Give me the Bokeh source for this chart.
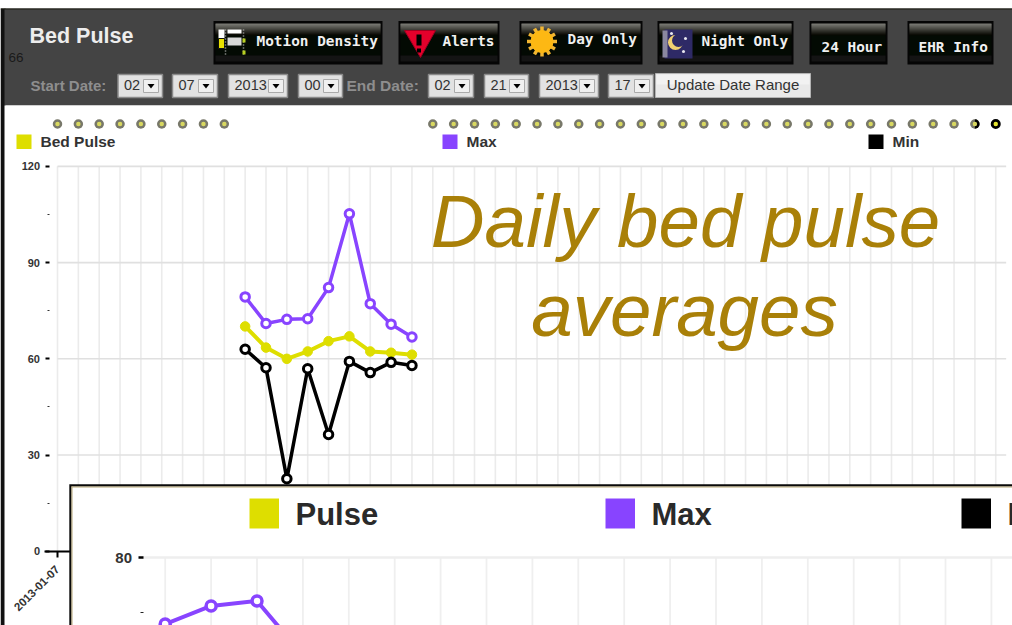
import math
from bokeh.embed import file_html
from bokeh.resources import INLINE
from bokeh.plotting import figure
from bokeh.models import Range1d, LinearAxis, FixedTicker, GlobalInlineStyleSheet
from bokeh.core.properties import value

# ---------- data ----------
days = [9, 10, 11, 12, 13, 14, 15, 16, 17]
pulse = [70.1, 63.5, 60.0, 62.3, 65.5, 67.0, 62.3, 61.9, 61.3]
pulse_max = [79.3, 71.0, 72.3, 72.5, 82.2, 105.2, 77.2, 70.8, 66.8]
pulse_min = [63.0, 57.2, 22.6, 56.9, 36.4, 59.2, 55.7, 58.9, 57.9]

grid_days = list(range(0, 46))
no_data_days = list(range(0, 9)) + list(range(18, 44))
partial_day = [44]
full_day = [45]
y_major = [0, 30, 60, 90, 120]
y_minor = [15, 45, 75, 105]
x_tick_day = [0]
x_tick_label = {0: "2013-01-07"}

inset_days = [0, 1, 2, 3]
inset_max = [67.9, 71.2, 72.1, 62.2]
inset_grid = list(range(0, 19))
inset_y_major = [80]
inset_y_minor = [70]

legend_main = ["Bed Pulse", "Max", "Min"]
legend_inset = ["Pulse", "Max", "Min"]
YELLOW, PURPLE, BLACK = "#DEDE00", "#8844FF", "#000000"

W, H = 1012, 625
# pixel calibration of the two charts
DX, X0 = 20.85, 57.0
DY, Y0 = 3.208, 550.8
IDX, IX0 = 45.9, 164.7
IDY, IY0 = 5.5, 557.0   # px per unit, px of value 80

p = figure(width=W, height=H, x_axis_type=None, y_axis_type=None,
           x_range=Range1d(-X0 / DX, (W - X0) / DX),
           y_range=Range1d((Y0 - H) / DY, Y0 / DY),
           toolbar_location=None, output_backend="svg", min_border=0,
           outline_line_color=None, background_fill_color="white")
p.grid.visible = False
p.stylesheets = [GlobalInlineStyleSheet(css="html,body{margin:0;padding:0;overflow:hidden;}")]
p.extra_x_ranges["px"] = Range1d(0, W)
p.extra_y_ranges["px"] = Range1d(H, 0)
p.extra_x_ranges["ix"] = Range1d(-IX0 / IDX, (W - IX0) / IDX)
p.extra_y_ranges["iy"] = Range1d(80 - (H - IY0) / IDY, 80 + IY0 / IDY)
PX = dict(x_range_name="px", y_range_name="px")
IN = dict(x_range_name="ix", y_range_name="iy")


def box(l, t, r, b, color, line=None, level="glyph", lw=1):
    p.quad(left=[l], right=[r], top=[t], bottom=[b], fill_color=color,
           line_color=line, line_width=lw, level=level, **PX)


def txt(x, y, s, size, color, style="normal", font="Liberation Sans",
        align="left", base="middle", level="glyph", alpha=1.0):
    p.text(x=[x], y=[y], text=[s], text_font=value(font), text_font_size=f"{size}px",
           text_font_style=style, text_color=color, text_align=align,
           text_baseline=base, level=level, text_alpha=alpha, **PX)


# ---------- page chrome ----------
box(0, 8, 5, H, "#111111")
box(4, 8, W, 105, "#444444")
box(0, 8, W, 9, "#1a1a10")
box(4, 105, W, H, "#ffffff")

txt(29, 35, "Bed Pulse", 21.5, "#EDEDED", "bold")
txt(8, 56.5, "66", 13.5, "#1A1A1A")
txt(30, 84.5, "Start Date:", 15, "#8E8E8E", "bold")
txt(346, 84.5, "End Date:", 15.5, "#8E8E8E", "bold")

buttons = [(213, 382, "Motion Density", 256, 40.5), (398, 499, "Alerts", 442, 40.5),
           (519, 642, "Day Only", 567, 38.5), (657, 793, "Night Only", 701, 40.5),
           (809, 887, "24 Hour", 821, 46.5), (907, 993, "EHR Info", 918, 46.5)]
for l, r, label, tx, ty in buttons:
    box(l, 20.5, r, 64, "#050505")
    n = 12
    for i in range(n):
        c = int(122 - (122 - 8) * i / (n - 1))
        box(l + 2, 23 + i, r - 2, 24.5 + i, f"#{c:02x}{c:02x}{max(c-6,0):02x}")
    box(l + 2, 35, r - 2, 55, "#030a03")
    box(l + 2, 55, r - 2, 61, "#141414")
    txt(tx, ty, label, 14.4, "#F0F0F0", "bold", "DejaVu Sans Mono")

# motion icon
box(218, 29, 224, 38, "#FFFFFF")
box(218, 38, 224, 48, "#E8E000", "#111111")
box(227, 29, 241, 33, "#FFFFFF")
box(227, 37, 241, 45, "#D8D8D8")
p.segment(x0=[225, 243], y0=[29, 29], x1=[225, 243], y1=[54, 54], line_color="#BBBBBB",
          line_dash="1 2", line_width=1.5, **PX)
box(242, 38, 245, 42, "#B8D020")
box(242, 50, 245, 54, "#B8D020")
# alert icon
p.patch(x=[404, 435, 420], y=[30, 30, 57], fill_color="#E4002B", line_color="#A00020", **PX)
box(416, 34, 421, 45, "#000000")
box(416.5, 48, 420.5, 52, "#000000")
# sun icon
sun_x, sun_y = 541.5, 41
for k in range(12):
    a = k * math.pi / 6
    p.segment(x0=[sun_x], y0=[sun_y], x1=[sun_x + 15 * math.cos(a)], y1=[sun_y + 15 * math.sin(a)],
              line_color="#F2B632", line_width=3.5, **PX)
p.scatter(x=[sun_x], y=[sun_y], size=22, fill_color="#FDB813", line_color="#FDB813", **PX)
# night icon
box(664, 29, 692, 58, "#2E2A66")
box(662, 30, 667, 57, "#8A88A0")
p.scatter(x=[675], y=[42], size=15, fill_color="#F0D070", line_color=None, **PX)
p.scatter(x=[678], y=[40], size=13, fill_color="#2E2A66", line_color=None, **PX)
p.scatter(x=[685, 671, 683], y=[38, 33, 51], size=3, fill_color="#E8E8F0", line_color=None, **PX)

# date selects
select_labels = ["02", "07", "2013", "00", "02", "21", "2013", "17"]
select_boxes = [(117.5, 162), (172, 217), (228, 287), (298, 342), (428, 473), (484, 528), (539, 598), (608, 653)]
for (l, r), s in zip(select_boxes, select_labels):
    box(l, 74, r, 97, "#E2E2E2", "#8A8A8A", lw=1.5)
    txt(l + 6, 84.5, s, 14.5, "#333333")
    box(r - 19, 79, r - 4, 92, "#F0F0F0", "#AAAAAA")
    p.patch(x=[r - 15, r - 8, r - 11.5], y=[83.5, 83.5, 88], fill_color="#000000", line_color=None, **PX)
box(655, 73, 810, 97, "#E9E9E9", "#B4B4B4")
box(656, 74, 809, 84, "#F2F2F2")
txt(732.5, 84, "Update Date Range", 15, "#333333", align="center")

# ---------- main chart ----------
p.segment(x0=grid_days, y0=[0] * len(grid_days), x1=grid_days, y1=[120] * len(grid_days),
          line_color="#EBEBEB", line_width=1.6)
hs = y_major[1:]
p.segment(x0=[0] * len(hs), y0=hs, x1=[45.5] * len(hs), y1=hs, line_color="#E0E0E0", line_width=1.6)

dot_y = 133.2
p.scatter(x=no_data_days, y=[dot_y] * len(no_data_days), size=9.5, fill_color="#78786A", line_color=None)
p.scatter(x=no_data_days, y=[dot_y] * len(no_data_days), size=4.5, fill_color="#D8D860", line_color=None)
p.scatter(x=partial_day, y=[dot_y], size=9.5, fill_color="#78786A", line_color=None)
p.wedge(x=partial_day, y=[dot_y], radius=4.7, radius_units="screen", start_angle=-1.57, end_angle=1.57,
        fill_color="#000000", line_color=None)
p.scatter(x=partial_day, y=[dot_y], size=4.5, fill_color="#D8D860", line_color=None)
p.scatter(x=full_day, y=[dot_y], size=10, fill_color="#000000", line_color=None)
p.scatter(x=full_day, y=[dot_y], size=4.5, fill_color="#E4E430", line_color=None)

for i, (name, color) in enumerate(zip(legend_main, [YELLOW, PURPLE, BLACK])):
    lx = [16, 442, 868][i]
    box(lx, 134, lx + 15, 148.5, color)
    txt(lx + 24, 140.5, name, 15.5, "#333333", "bold")

p.line(days, pulse, line_color=YELLOW, line_width=4)
p.scatter(days, pulse, size=9.5, fill_color=YELLOW, line_color=YELLOW, line_width=1)
p.line(days, pulse_max, line_color=PURPLE, line_width=3.5)
p.scatter(days, pulse_max, size=8.5, fill_color="white", line_color=PURPLE, line_width=3)
p.line(days, pulse_min, line_color=BLACK, line_width=3.5)
p.scatter(days, pulse_min, size=8.5, fill_color="white", line_color=BLACK, line_width=3)

yaxis = LinearAxis(fixed_location=(48.5 - X0) / DX, bounds=(0, 120),
                   ticker=FixedTicker(ticks=y_major, minor_ticks=y_minor))
yaxis.axis_line_color = None
yaxis.major_tick_in = 0
yaxis.major_tick_out = 4
yaxis.major_tick_line_width = 2
yaxis.major_tick_line_color = "#000000"
yaxis.minor_tick_in = 0
yaxis.minor_tick_out = 2
yaxis.minor_tick_line_color = "#333333"
yaxis.major_label_standoff = 5
yaxis.major_label_text_font = "Liberation Sans"
yaxis.major_label_text_font_size = "11px"
yaxis.major_label_text_font_style = "bold"
yaxis.major_label_text_color = "#333333"
p.add_layout(yaxis, "left")

xaxis = LinearAxis(fixed_location=0, bounds=(-0.62, 0.6), ticker=FixedTicker(ticks=x_tick_day, minor_ticks=[]),
                   major_label_overrides=x_tick_label, major_label_orientation=math.pi / 4)
xaxis.axis_line_color = "#000000"
xaxis.axis_line_width = 2
xaxis.major_tick_in = 0
xaxis.major_tick_out = 6
xaxis.major_tick_line_width = 2
xaxis.major_tick_line_color = "#000000"
xaxis.minor_tick_out = 0
xaxis.major_label_standoff = 10
xaxis.major_label_text_font = "Liberation Sans"
xaxis.major_label_text_font_size = "11.5px"
xaxis.major_label_text_font_style = "bold"
xaxis.major_label_text_color = "#333333"
p.add_layout(xaxis, "below")

# big annotation
txt(685, 221, "Daily bed pulse", 74.5, "#A67C00", "italic", align="center", base="alphabetic", alpha=0.97)
txt(684, 310, "averages", 74.5, "#A67C00", "italic", align="center", base="alphabetic", alpha=0.97)

# ---------- inset panel ----------
LV = "annotation"
box(68.8, 483.8, W + 5, H + 5, "#0A0A0A", level=LV)
box(71, 486, W + 5, H + 5, "#FFFFFF", level=LV)
p.segment(x0=[71.5, 71], y0=[486, 486.5], x1=[71.5, W], y1=[H, 486.5], line_color="#B8A878", line_width=1, level=LV, **PX)

p.segment(x0=inset_grid, y0=[60] * len(inset_grid), x1=inset_grid, y1=[80] * len(inset_grid),
          line_color="#EFEFEF", line_width=1.8, level=LV, **IN)
p.segment(x0=[-0.5], y0=[80], x1=[18.5], y1=[80], line_color="#EEEEEE", line_width=2.5, level=LV, **IN)

for i, (name, color) in enumerate(zip(legend_inset, [YELLOW, PURPLE, BLACK])):
    lx = [249, 605, 961][i]
    box(lx, 498, lx + 29.5, 528, color, level=LV)
    txt(lx + 46, 514, name, 31, "#2A2A2A", "bold", level=LV)

p.line(inset_days, inset_max, line_color=PURPLE, line_width=4, level=LV, **IN)
p.scatter(inset_days, inset_max, size=10, fill_color="white", line_color=PURPLE, line_width=3.5, level=LV, **IN)

iaxis = LinearAxis(fixed_location=(142.5 - IX0) / IDX, x_range_name="ix", y_range_name="iy",
                   ticker=FixedTicker(ticks=inset_y_major, minor_ticks=inset_y_minor), level="overlay")
iaxis.axis_line_color = None
iaxis.major_tick_in = 0
iaxis.major_tick_out = 5
iaxis.major_tick_line_width = 2.5
iaxis.major_tick_line_color = "#000000"
iaxis.minor_tick_in = 0
iaxis.minor_tick_out = 3
iaxis.minor_tick_line_color = "#222222"
iaxis.major_label_standoff = 6
iaxis.major_label_text_font = "Liberation Sans"
iaxis.major_label_text_font_size = "15px"
iaxis.major_label_text_font_style = "bold"
iaxis.major_label_text_color = "#333333"
p.add_layout(iaxis, "left")

open("out.html", "w").write(file_html(p, INLINE))
